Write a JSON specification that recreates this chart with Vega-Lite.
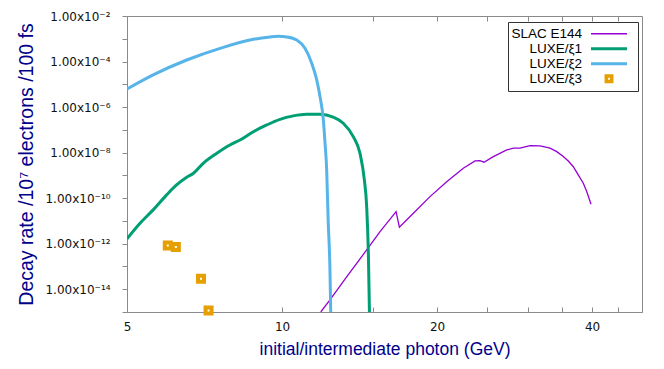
{
  "$schema": "https://vega.github.io/schema/vega-lite/v6.json",
  "width": 515,
  "height": 296,
  "autosize": {"type": "none"},
  "padding": {"left": 127, "top": 16, "right": 22, "bottom": 57},
  "background": "white",
  "config": {
    "view": {"stroke": "#8a8a8a", "strokeWidth": 1},
    "axis": {
      "domainColor": "#8a8a8a",
      "tickColor": "#8a8a8a",
      "labelFont": "DejaVu Sans",
      "labelFontSize": 12,
      "labelColor": "#111111",
      "titleFont": "Liberation Sans",
      "titleFontSize": 17.5,
      "titleFontWeight": "normal",
      "titleColor": "#00008b",
      "grid": false
    }
  },
  "datasets": {
    "curves": [
      {"series": "SLAC E144", "x": 11.89, "y": 1.0e-15},
      {"series": "SLAC E144", "x": 12.39, "y": 3.4e-15},
      {"series": "SLAC E144", "x": 13.36, "y": 3.6e-14},
      {"series": "SLAC E144", "x": 14.60, "y": 5.3e-13},
      {"series": "SLAC E144", "x": 15.50, "y": 3.4e-12},
      {"series": "SLAC E144", "x": 16.65, "y": 2.56e-11},
      {"series": "SLAC E144", "x": 16.90, "y": 5.3e-12},
      {"series": "SLAC E144", "x": 17.99, "y": 2.18e-11},
      {"series": "SLAC E144", "x": 19.38, "y": 1.17e-10},
      {"series": "SLAC E144", "x": 20.88, "y": 5.3e-10},
      {"series": "SLAC E144", "x": 22.49, "y": 2.06e-9},
      {"series": "SLAC E144", "x": 23.70, "y": 4.3e-9},
      {"series": "SLAC E144", "x": 24.23, "y": 4.4e-9},
      {"series": "SLAC E144", "x": 24.67, "y": 3.8e-9},
      {"series": "SLAC E144", "x": 25.72, "y": 6.7e-9},
      {"series": "SLAC E144", "x": 27.31, "y": 1.31e-8},
      {"series": "SLAC E144", "x": 28.13, "y": 1.56e-8},
      {"series": "SLAC E144", "x": 28.98, "y": 1.56e-8},
      {"series": "SLAC E144", "x": 30.31, "y": 2.02e-8},
      {"series": "SLAC E144", "x": 31.70, "y": 1.96e-8},
      {"series": "SLAC E144", "x": 33.15, "y": 1.56e-8},
      {"series": "SLAC E144", "x": 34.15, "y": 1.1e-8},
      {"series": "SLAC E144", "x": 35.17, "y": 6.7e-9},
      {"series": "SLAC E144", "x": 35.96, "y": 4.3e-9},
      {"series": "SLAC E144", "x": 36.78, "y": 2.4e-9},
      {"series": "SLAC E144", "x": 37.60, "y": 1.05e-9},
      {"series": "SLAC E144", "x": 38.46, "y": 4.5e-10},
      {"series": "SLAC E144", "x": 39.05, "y": 1.94e-10},
      {"series": "SLAC E144", "x": 39.81, "y": 5.4e-11},
      {"series": "LUXE/ξ1", "x": 5.00, "y": 1.63e-12},
      {"series": "LUXE/ξ1", "x": 5.30, "y": 7.9e-12},
      {"series": "LUXE/ξ1", "x": 5.62, "y": 3.05e-11},
      {"series": "LUXE/ξ1", "x": 5.97, "y": 1.39e-10},
      {"series": "LUXE/ξ1", "x": 6.24, "y": 3.8e-10},
      {"series": "LUXE/ξ1", "x": 6.53, "y": 8.3e-10},
      {"series": "LUXE/ξ1", "x": 6.73, "y": 1.24e-9},
      {"series": "LUXE/ξ1", "x": 7.03, "y": 3.4e-9},
      {"series": "LUXE/ξ1", "x": 7.47, "y": 9.4e-9},
      {"series": "LUXE/ξ1", "x": 7.92, "y": 2.17e-8},
      {"series": "LUXE/ξ1", "x": 8.29, "y": 3.6e-8},
      {"series": "LUXE/ξ1", "x": 8.80, "y": 8.3e-8},
      {"series": "LUXE/ξ1", "x": 9.34, "y": 1.64e-7},
      {"series": "LUXE/ξ1", "x": 9.91, "y": 2.9e-7},
      {"series": "LUXE/ξ1", "x": 10.52, "y": 4.1e-7},
      {"series": "LUXE/ξ1", "x": 11.17, "y": 4.8e-7},
      {"series": "LUXE/ξ1", "x": 11.85, "y": 4.8e-7},
      {"series": "LUXE/ξ1", "x": 12.57, "y": 3.6e-7},
      {"series": "LUXE/ξ1", "x": 13.15, "y": 1.95e-7},
      {"series": "LUXE/ξ1", "x": 13.75, "y": 5.0e-8},
      {"series": "LUXE/ξ1", "x": 14.17, "y": 9.4e-9},
      {"series": "LUXE/ξ1", "x": 14.45, "y": 6.3e-10},
      {"series": "LUXE/ξ1", "x": 14.60, "y": 4.3e-11},
      {"series": "LUXE/ξ1", "x": 14.71, "y": 3.8e-13},
      {"series": "LUXE/ξ1", "x": 14.78, "y": 1.24e-15},
      {"series": "LUXE/ξ1", "x": 14.80, "y": 1.0e-16},
      {"series": "LUXE/ξ2", "x": 5.00, "y": 6.2e-6},
      {"series": "LUXE/ξ2", "x": 5.62, "y": 2.6e-5},
      {"series": "LUXE/ξ2", "x": 6.53, "y": 1.17e-4},
      {"series": "LUXE/ξ2", "x": 7.58, "y": 3.8e-4},
      {"series": "LUXE/ξ2", "x": 8.80, "y": 9.5e-4},
      {"series": "LUXE/ξ2", "x": 9.48, "y": 1.2e-3},
      {"series": "LUXE/ξ2", "x": 9.85, "y": 1.28e-3},
      {"series": "LUXE/ξ2", "x": 10.21, "y": 1.2e-3},
      {"series": "LUXE/ξ2", "x": 10.68, "y": 8.8e-4},
      {"series": "LUXE/ξ2", "x": 11.08, "y": 3.8e-4},
      {"series": "LUXE/ξ2", "x": 11.42, "y": 8.4e-5},
      {"series": "LUXE/ξ2", "x": 11.68, "y": 1.55e-5},
      {"series": "LUXE/ξ2", "x": 11.85, "y": 2.9e-6},
      {"series": "LUXE/ξ2", "x": 12.03, "y": 2.7e-7},
      {"series": "LUXE/ξ2", "x": 12.12, "y": 2.6e-8},
      {"series": "LUXE/ξ2", "x": 12.21, "y": 1.7e-9},
      {"series": "LUXE/ξ2", "x": 12.29, "y": 1.1e-11},
      {"series": "LUXE/ξ2", "x": 12.39, "y": 7.1e-14},
      {"series": "LUXE/ξ2", "x": 12.43, "y": 1.24e-15},
      {"series": "LUXE/ξ2", "x": 12.45, "y": 1.0e-16}
    ],
    "xi3": [
      {"series": "LUXE/ξ3", "x": 6.0, "y": 8.3e-13},
      {"series": "LUXE/ξ3", "x": 6.22, "y": 7.2e-13},
      {"series": "LUXE/ξ3", "x": 6.96, "y": 2.9e-14},
      {"series": "LUXE/ξ3", "x": 7.2, "y": 1.15e-15}
    ]
  },
  "layer": [
    {
      "data": {"name": "curves"},
      "transform": [{"filter": "datum.series === 'SLAC E144'"}],
      "mark": {"type": "line", "clip": true, "strokeWidth": 1.3},
      "encoding": {
        "x": {
          "field": "x", "type": "quantitative",
          "scale": {"type": "log", "domain": [5, 50], "nice": false},
          "axis": {
            "orient": "bottom",
            "values": [5, 10, 15, 20, 25, 30, 35, 40, 45],
            "labelExpr": "datum.value == 5 || datum.value == 10 || datum.value == 20 || datum.value == 40 ? '' + datum.value : ''",
            "tickSize": -5,
            "labelPadding": 14,
            "labelFlush": false,
            "labelOverlap": false,
            "title": "initial/intermediate photon (GeV)",
            "titlePadding": 8
          }
        },
        "y": {
          "field": "y", "type": "quantitative",
          "scale": {"type": "log", "domain": [1e-15, 1e-2], "nice": false},
          "axis": {
            "values": [1e-2, 1e-3, 1e-4, 1e-5, 1e-6, 1e-7, 1e-8, 1e-9, 1e-10, 1e-11, 1e-12, 1e-13, 1e-14, 1e-15],
            "labelExpr": "['', '', '1.00x10⁻²', '', '1.00x10⁻⁴', '', '1.00x10⁻⁶', '', '1.00x10⁻⁸', '', '1.00x10⁻¹⁰', '', '1.00x10⁻¹²', '', '1.00x10⁻¹⁴', ''][-round(log(datum.value) / LN10)]",
            "tickSize": 5,
            "labelPadding": 12,
            "labelFlush": false,
            "labelOverlap": false,
            "title": "Decay rate /10⁷ electrons /100 fs",
            "titleFontSize": 19.5,
            "titlePadding": 8
          }
        },
        "color": {
          "field": "series", "type": "nominal",
          "scale": {"domain": ["SLAC E144", "LUXE/ξ1", "LUXE/ξ2", "LUXE/ξ3"], "range": ["#9400d3", "#009e73", "#56b4e9", "#e69f00"]},
          "legend": {
            "title": null,
            "orient": "none",
            "legendX": 381,
            "legendY": 6,
            "strokeColor": "#333333",
            "fillColor": "white",
            "padding": 5,
            "labelFont": "Liberation Sans",
            "labelFontSize": 13.5,
            "labelColor": "#000000",
            "symbolSize": 100,
            "rowPadding": 0,
            "labelLimit": 300,
            "encode": {
              "labels": {
                "update": {
                  "align": {"value": "right"},
                  "x": {"value": 69}
                }
              },
              "symbols": {
                "update": {
                  "x": {"value": 96},
                  "shape": {"signal": "datum.value === 'LUXE/ξ3' ? 'M-1,-1H1V1H-1Z M-0.2,-0.2V0.2H0.2V-0.2Z' : 'M-3.6,0H3.6'"},
                  "fill": {"signal": "datum.value === 'LUXE/ξ3' ? '#e69f00' : 'transparent'"},
                  "stroke": {"signal": "datum.value === 'SLAC E144' ? '#9400d3' : datum.value === 'LUXE/ξ1' ? '#009e73' : datum.value === 'LUXE/ξ2' ? '#56b4e9' : 'transparent'"},
                  "strokeWidth": {"signal": "datum.value === 'SLAC E144' ? 1.3 : datum.value === 'LUXE/ξ3' ? 0 : 3"},
                  "size": {"signal": "datum.value === 'LUXE/ξ3' ? 80 : 100"},
                  "opacity": {"value": 1}
                }
              }
            }
          }
        }
      }
    },
    {
      "data": {"name": "curves"},
      "transform": [{"filter": "datum.series !== 'SLAC E144'"}],
      "mark": {"type": "line", "clip": true, "strokeWidth": 3, "interpolate": "monotone"},
      "encoding": {
        "x": {"field": "x", "type": "quantitative", "axis": null},
        "y": {"field": "y", "type": "quantitative"},
        "color": {"field": "series", "type": "nominal"}
      }
    },
    {
      "data": {"name": "xi3"},
      "mark": {"type": "point", "shape": "M-1,-1H1V1H-1Z M-0.2,-0.2V0.2H0.2V-0.2Z", "filled": true, "size": 100, "color": "#e69f00", "opacity": 1, "strokeWidth": 0},
      "encoding": {
        "x": {
          "field": "x", "type": "quantitative",
          "axis": {"orient": "top", "values": [5, 10, 15, 20, 25, 30, 35, 40, 45], "labels": false, "tickSize": -5, "title": null, "domain": false}
        },
        "y": {"field": "y", "type": "quantitative"}
      }
    }
  ],
  "resolve": {"axis": {"x": "independent"}}
}
